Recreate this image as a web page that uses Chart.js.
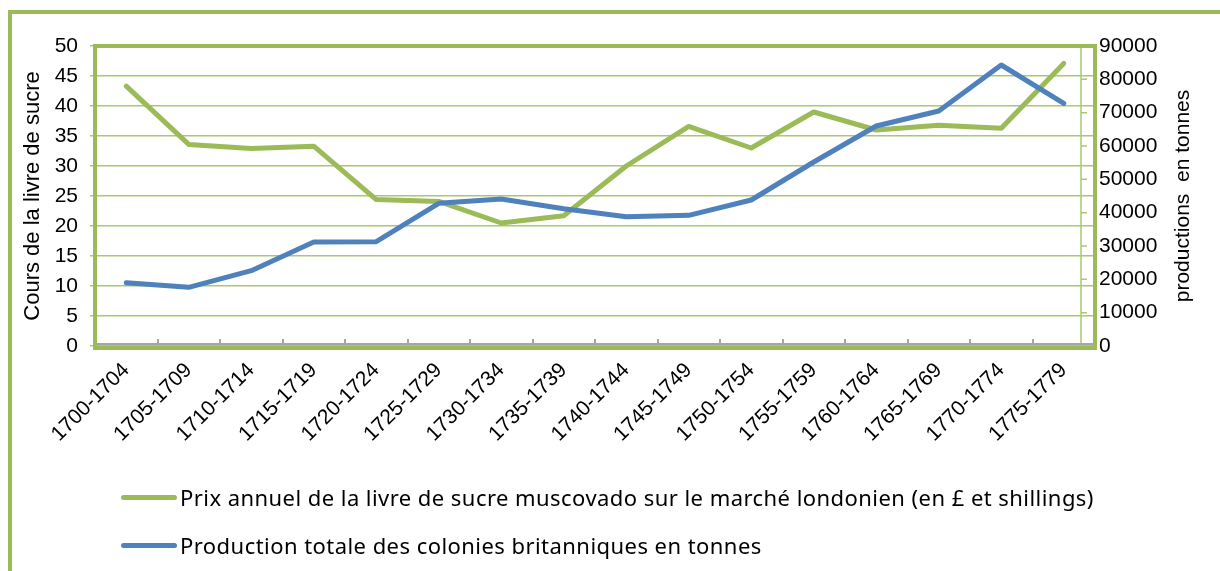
<!DOCTYPE html>
<html>
<head>
<meta charset="utf-8">
<script src="https://cdn.jsdelivr.net/npm/chart.js@4.4.1/dist/chart.umd.min.js"></script>
<style>
  html, body { margin: 0; padding: 0; background: #fff; overflow: hidden; }
  #wrap { position: relative; width: 1220px; height: 571px; overflow: hidden; }
  #frame { position: absolute; left: 8px; top: 10px; width: 1300px; height: 700px; border: 4px solid #9BBB59; box-sizing: border-box; }
  #chart { position: absolute; left: 0; top: 0; }
  #legend { position: absolute; left: 121px; top: 473px; font-family: "Noto Sans", sans-serif; font-size: 22px; letter-spacing: 0.45px; color: #000; }
  .item { display: flex; align-items: center; height: 48px; white-space: nowrap; }
  .swatch { width: 56px; height: 5px; border-radius: 3px; margin-right: 3px; }
</style>
</head>
<body>
<div id="wrap">
  <div id="frame"></div>
  <canvas id="chart" width="1220" height="571"></canvas>
  <div id="legend"></div>
</div>
<script>
// Data
const periods = ['1700-1704', '1705-1709', '1710-1714', '1715-1719', '1720-1724', '1725-1729',
  '1730-1734', '1735-1739', '1740-1744', '1745-1749', '1750-1754', '1755-1759',
  '1760-1764', '1765-1769', '1770-1774', '1775-1779'];
const sugarPrice = [43.3, 33.6, 32.9, 33.3, 24.4, 24.1, 20.5, 21.7, 30.0, 36.6, 33.0, 39.0, 36.0, 36.8, 36.3, 47.1];
const colonyProduction = [19000, 17600, 22600, 31200, 31300, 42800, 44100, 41200, 38800, 39200, 43800, 55200, 66000, 70500, 84300, 72800];

const GREEN = '#9BBB59';
const BLUE = '#4F81BD';
const GRID_GREEN = '#A9C870';

Chart.defaults.font.family = '"Liberation Sans", Arial, sans-serif';
Chart.defaults.font.size = 21;
Chart.defaults.color = '#000';

// Plot border, grey category axis and the inner right axis line
const plotFrame = {
  id: 'plotFrame',
  beforeDatasetsDraw(chart) {
    const { ctx, chartArea: a, scales } = chart;
    ctx.save();

    // thin right axis line with its ticks
    const y2 = scales.y2;
    const ax = a.right - 14;
    ctx.strokeStyle = GRID_GREEN;
    ctx.lineWidth = 1.5;
    ctx.beginPath();
    ctx.moveTo(ax, a.top);
    ctx.lineTo(ax, a.bottom);
    y2.ticks.forEach(t => {
      const py = y2.getPixelForValue(t.value);
      ctx.moveTo(ax, py);
      ctx.lineTo(ax + 6, py);
    });
    ctx.stroke();

    // grey category axis
    const x = scales.x;
    const gy = a.bottom - 2;
    ctx.strokeStyle = '#A6A6A6';
    ctx.lineWidth = 2;
    ctx.beginPath();
    ctx.moveTo(a.left, gy);
    ctx.lineTo(a.right, gy);
    for (let i = 0; i <= periods.length; i++) {
      const px = Math.round(x.getPixelForValue(i - 0.5));
      ctx.moveTo(px, gy);
      ctx.lineTo(px, gy - 5);
    }
    ctx.stroke();

    // thick border round the plot area
    ctx.strokeStyle = GREEN;
    ctx.lineWidth = 4;
    ctx.strokeRect(a.left, a.top, a.width, a.height + 2);
    ctx.restore();
  },
  afterDraw(chart) {
    const { ctx, chartArea: a } = chart;
    ctx.save();
    ctx.translate(1183, (a.top + a.bottom) / 2);
    ctx.rotate(-Math.PI / 2);
    ctx.font = '21px "Liberation Sans", Arial, sans-serif';
    ctx.fillStyle = '#000';
    ctx.textAlign = 'center';
    ctx.textBaseline = 'middle';
    ctx.fillText('productions  en tonnes', 0, 0);
    ctx.restore();
  }
};

const chart = new Chart(document.getElementById('chart'), {
  type: 'line',
  data: {
    labels: periods,
    datasets: [
      {
        label: 'Prix annuel de la livre de sucre muscovado sur le marché londonien (en £ et shillings)',
        data: sugarPrice,
        yAxisID: 'y',
        borderColor: GREEN,
        backgroundColor: GREEN,
        borderWidth: 5,
        pointRadius: 0,
        tension: 0,
        borderCapStyle: 'round',
        borderJoinStyle: 'round',
        order: 1
      },
      {
        label: 'Production totale des colonies britanniques en tonnes',
        data: colonyProduction,
        yAxisID: 'y2',
        borderColor: BLUE,
        backgroundColor: BLUE,
        borderWidth: 5,
        pointRadius: 0,
        tension: 0,
        borderCapStyle: 'round',
        borderJoinStyle: 'round',
        order: 0
      }
    ]
  },
  options: {
    responsive: false,
    animation: false,
    layout: { padding: { top: 46, left: 0, right: 0, bottom: 0 } },
    plugins: {
      legend: { display: false },
      tooltip: { enabled: false }
    },
    scales: {
      x: {
        offset: true,
        grid: { display: false, drawTicks: false },
        border: { display: false },
        ticks: { autoSkip: false, minRotation: 45, maxRotation: 45, padding: 12 },
        afterFit(scale) { scale.height = 225; }
      },
      y: {
        position: 'left',
        min: 0,
        max: 50,
        ticks: { stepSize: 5, padding: 12 },
        grid: { color: GRID_GREEN, lineWidth: 1.5, tickLength: 5, drawTicks: true },
        border: { display: false },
        title: { display: true, text: 'Cours de la livre de sucre', font: { size: 22 }, padding: { top: 20, bottom: 0 } },
        afterFit(scale) { scale.width = 95; }
      },
      y2: {
        position: 'right',
        min: 0,
        max: 90000,
        ticks: { stepSize: 10000, padding: 4, callback: v => String(v) },
        grid: { display: false, drawTicks: false },
        border: { display: false },
        afterFit(scale) { scale.width = 125; }
      }
    }
  },
  plugins: [plotFrame]
});

// legend as real text below the chart
const legend = document.getElementById('legend');
chart.data.datasets.forEach(ds => {
  const item = document.createElement('div');
  item.className = 'item';
  const sw = document.createElement('span');
  sw.className = 'swatch';
  sw.style.background = ds.borderColor;
  const txt = document.createElement('span');
  txt.textContent = ds.label;
  item.appendChild(sw);
  item.appendChild(txt);
  legend.appendChild(item);
});
</script>
</body>
</html>
